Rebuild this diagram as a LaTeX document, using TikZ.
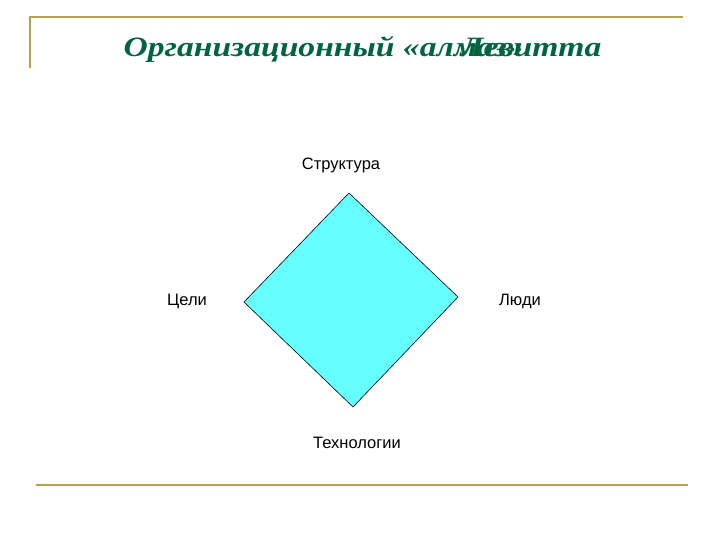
\documentclass[tikz,border=0pt]{standalone}
\usepackage{fontspec}
\setmainfont{Liberation Serif}
\setsansfont{Liberation Sans}
\usepackage{tikz}

\definecolor{rulegold}{RGB}{184,160,80}
\definecolor{titlegreen}{RGB}{0,100,64}
\definecolor{diamondfill}{RGB}{102,255,255}

\tikzset{
  titletext/.style={text=titlegreen,xscale=1.2,inner sep=0pt,
    font=\fontsize{28}{32}\selectfont\bfseries\itshape},
  cornerlabel/.style={font=\sffamily\fontsize{16.5}{19}\selectfont}
}

\begin{document}
\begin{tikzpicture}[x=1pt,y=-1pt,line width=1pt]
\useasboundingbox (0,0) rectangle (720,540);

\draw[rulegold,line width=2pt] (29,17) -- (683,17);
\draw[rulegold,line width=2pt] (30,17) -- (30,68);
\draw[rulegold,line width=2pt] (36,485) -- (688,485);

\node [titletext,anchor=base west] (title) at (123,57) {Организационный «алмаз»};
\node [titletext,anchor=base east] (author) at (602,57) {Левитта};

\coordinate (top) at (349,193);
\coordinate (left) at (244,302);
\coordinate (right) at (458,297);
\coordinate (bottom) at (353,407);
\draw[fill=diamondfill,line width=0.6pt] (top) -- (right) -- (bottom) -- (left) -- cycle;

\node [cornerlabel] (struct) at (341,165) {Структура};
\node [cornerlabel] (goals) at (187,301) {Цели};
\node [cornerlabel] (people) at (520,301) {Люди};
\node [cornerlabel] (tech) at (357,443) {Технологии};

\end{tikzpicture}
\end{document}
